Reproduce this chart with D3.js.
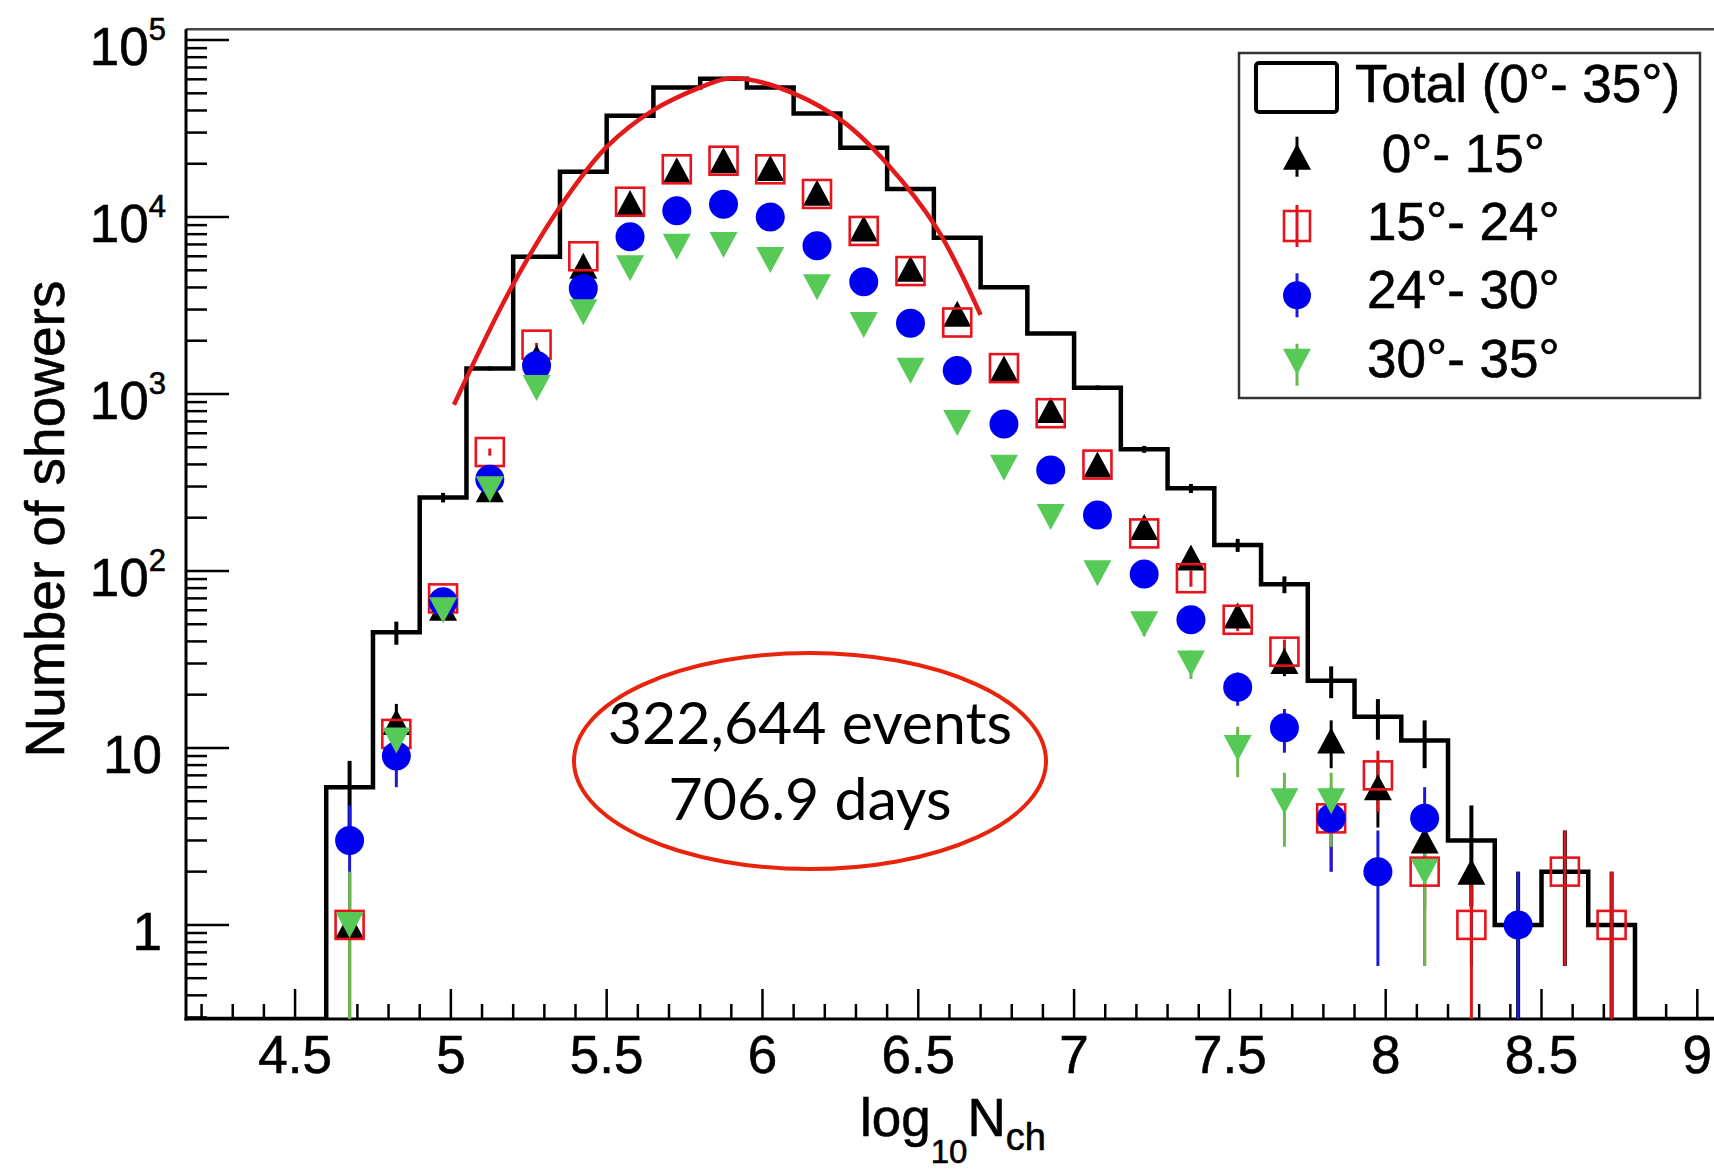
<!DOCTYPE html>
<html>
<head>
<meta charset="utf-8">
<script src="https://cdn.jsdelivr.net/npm/d3@7/dist/d3.min.js"></script>
<style>
  html, body { margin: 0; padding: 0; background: #fff; }
  svg { display: block; }
  .root-txt { font-family: "Liberation Sans", Arial, Helvetica, sans-serif; fill: #000; stroke: #000; stroke-width: 0.6px; }
  .note-txt { font-family: Lato, "Open Sans", sans-serif; fill: #000; }
</style>
</head>
<body>
<div id="chart"></div>
<script>
// ── data ────────────────────────────────────────────────────────────────────
const binCenters  = [4.675, 4.825, 4.975, 5.125, 5.275, 5.425, 5.575, 5.725, 5.875, 6.025,
                     6.175, 6.325, 6.475, 6.625, 6.775, 6.925, 7.075, 7.225, 7.375, 7.525,
                     7.675, 7.825, 7.975, 8.125, 8.275, 8.425, 8.575, 8.725];
const binWidth    = 0.15;

const totalCounts = [6, 45, 260, 1395, 5970, 18000, 37300, 54000, 60400, 54000,
                     38500, 24600, 14400, 7640, 4010, 2200, 1085, 487, 293, 140,
                     84, 24, 15, 11, 3, 1, 2, 1];
const zen0to15    = [1, 14, 62, 290, 1600, 5300, 12000, 18400, 20900, 18900,
                     13700, 8600, 5100, 2840, 1395, 813, 399, 177, 119, 56,
                     31, 11, 6, 3, 2, 0, 0, 0];
const zen15to24   = [1, 12, 70, 470, 1900, 6000, 12200, 18600, 20800, 18600,
                     13500, 8340, 4950, 2535, 1400, 779, 399, 163, 91, 53,
                     35, 4, 7, 2, 1, 0, 2, 1];
const zen24to30   = [3, 9, 67, 330, 1450, 3950, 7740, 10860, 11800, 10000,
                     6890, 4310, 2510, 1356, 676, 372, 207, 96, 53, 22,
                     13, 4, 2, 4, 0, 1, 0, 0];
const zen30to35   = [1, 11, 60, 290, 1080, 2900, 5130, 6790, 6950, 5710,
                     4010, 2450, 1355, 686, 383, 202, 97, 50, 30, 10,
                     5, 5, 0, 2, 0, 0, 0, 0];

// red fit curve
const fitX = [5.01, 5.19, 5.35, 5.50, 5.65, 5.80, 5.88, 5.95, 6.10, 6.26, 6.40, 6.56, 6.70];
const fitY = [870, 3870, 11400, 24900, 40200, 54000, 60300, 60000, 50000, 34500, 20000, 8600, 2800];

const xTickValues = [4.5, 5, 5.5, 6, 6.5, 7, 7.5, 8, 8.5, 9];
const xTickLabels = ['4.5', '5', '5.5', '6', '6.5', '7', '7.5', '8', '8.5', '9'];
const yDecades    = [1, 10, 100, 1000, 10000, 100000];
const yDecadeBase = ['1', '10', '10', '10', '10', '10'];
const yDecadeExp  = ['', '', '2', '3', '4', '5'];

const legendLabels = ['Total (0°- 35°)', ' 0°- 15°', '15°- 24°', '24°- 30°', '30°- 35°'];
const noteLines    = ['322,644 events', '706.9 days'];

// ── layout ──────────────────────────────────────────────────────────────────
const W = 1714, H = 1170;
const L = 186, R = 1716, T = 29.3, B = 1019;

const x = d3.scaleLinear().domain([4.15, 9.06]).range([L, R]);
const y = d3.scaleLog().domain([0.294, 1.15e5]).range([B, T]);

const svg = d3.select('#chart').append('svg')
  .attr('width', W).attr('height', H);

svg.append('defs').append('clipPath').attr('id', 'plotClip')
  .append('rect').attr('x', L).attr('y', T).attr('width', W - L).attr('height', B - T);

// ── frame ──
svg.append('line').attr('x1', L).attr('x2', W).attr('y1', T).attr('y2', T)
  .attr('stroke', '#444').attr('stroke-width', 2.5);

// ── axes ──
const axisG = svg.append('g');
axisG.append('line').attr('x1', L).attr('x2', L).attr('y1', T).attr('y2', B + 1.5)
  .attr('stroke', '#000').attr('stroke-width', 3);
axisG.append('line').attr('x1', L - 1.5).attr('x2', W).attr('y1', B).attr('y2', B)
  .attr('stroke', '#000').attr('stroke-width', 3);

// x ticks every 0.1, major every 0.5
const xTicks = x.ticks(50).filter(v => v > 4.15 && v < 9.06);
axisG.selectAll('line.xt').data(xTicks).enter().append('line')
  .attr('class', 'xt')
  .attr('x1', d => x(d)).attr('x2', d => x(d))
  .attr('y1', B)
  .attr('y2', d => Math.abs(d * 2 - Math.round(d * 2)) < 1e-6 ? B - 30 : B - 15)
  .attr('stroke', '#000').attr('stroke-width', 2.5);

axisG.selectAll('text.xl').data(xTickValues).enter().append('text')
  .attr('class', 'root-txt xl')
  .attr('x', d => x(d)).attr('y', 1073)
  .attr('text-anchor', 'middle')
  .attr('font-size', 53)
  .text((d, i) => xTickLabels[i]);

// y ticks: decades major, 2..9 minor
const yTicks = y.ticks().filter(v => v >= 0.294 && v <= 1.15e5);
axisG.selectAll('line.yt').data(yTicks).enter().append('line')
  .attr('class', 'yt')
  .attr('y1', d => y(d)).attr('y2', d => y(d))
  .attr('x1', L)
  .attr('x2', d => Math.abs(Math.log10(d) - Math.round(Math.log10(d))) < 1e-6 ? L + 43 : L + 21)
  .attr('stroke', '#000').attr('stroke-width', 2.5);

const yLab = axisG.selectAll('text.yl').data(yDecades).enter().append('text')
  .attr('class', 'root-txt yl')
  .attr('x', (d, i) => yDecadeExp[i] ? 166 : 162)
  .attr('y', d => y(d) + 25)
  .attr('text-anchor', 'end')
  .attr('font-size', 53);
yLab.append('tspan').text((d, i) => yDecadeBase[i]);
yLab.append('tspan')
  .attr('font-size', 31)
  .attr('dy', -25)
  .text((d, i) => yDecadeExp[i]);

// axis titles
svg.append('text').attr('class', 'root-txt')
  .attr('transform', 'translate(64,519) rotate(-90)')
  .attr('text-anchor', 'middle')
  .attr('font-size', 55)
  .text('Number of showers');

const xt = svg.append('text').attr('class', 'root-txt')
  .attr('x', 860).attr('y', 1136).attr('font-size', 53);
xt.append('tspan').text('log');
xt.append('tspan').attr('font-size', 33).attr('dy', 27).text('10');
xt.append('tspan').attr('dy', -27).text('N');
xt.append('tspan').attr('font-size', 38).attr('dy', 14).text('ch');

// ── plot contents ──
const plot = svg.append('g').attr('clip-path', 'url(#plotClip)');

// total histogram (step line)
const histPts = [[x.domain()[0], null], [binCenters[0] - binWidth / 2, null]];
binCenters.forEach((c, i) => {
  histPts.push([c - binWidth / 2, totalCounts[i]]);
  histPts.push([c + binWidth / 2, totalCounts[i]]);
});
const lastEdge = binCenters[binCenters.length - 1] + binWidth / 2;
histPts.push([lastEdge, null], [x.domain()[1], null]);

plot.append('path')
  .datum(histPts)
  .attr('fill', 'none')
  .attr('stroke', '#000')
  .attr('stroke-width', 4.5)
  .attr('stroke-linejoin', 'miter')
  .attr('d', d3.line().x(d => x(d[0])).y(d => d[1] ? y(d[1]) : B));

function errBar(g, counts, color, width) {
  g.selectAll(null).data(binCenters.map((c, i) => [c, counts[i]]).filter(d => d[1] > 0))
    .enter().append('line')
    .attr('x1', d => x(d[0])).attr('x2', d => x(d[0]))
    .attr('y1', d => y(d[1] + Math.sqrt(d[1])))
    .attr('y2', d => d[1] - Math.sqrt(d[1]) > 0 ? y(d[1] - Math.sqrt(d[1])) : B)
    .attr('stroke', color).attr('stroke-width', width);
}

errBar(plot, totalCounts, '#000', 4);

// fit curve
plot.append('path')
  .datum(fitX.map((v, i) => [v, fitY[i]]))
  .attr('fill', 'none')
  .attr('stroke', '#e41a1a')
  .attr('stroke-width', 4.5)
  .attr('d', d3.line().curve(d3.curveCatmullRom).x(d => x(d[0])).y(d => y(d[1])));

// series error bars
errBar(plot, zen0to15,  '#000', 3);
errBar(plot, zen15to24, '#d8141c', 3);
errBar(plot, zen24to30, '#1a1ad8', 3);
errBar(plot, zen30to35, '#6cb84c', 3);

// markers
const MS = 28;
function triUp(cx, cy)   { return `M${cx},${cy - 13}L${cx + MS / 2},${cy + 13}L${cx - MS / 2},${cy + 13}Z`; }
function triDown(cx, cy) { return `M${cx},${cy + 13}L${cx + MS / 2},${cy - 13}L${cx - MS / 2},${cy - 13}Z`; }

function pts(counts) {
  return binCenters.map((c, i) => [c, counts[i]]).filter(d => d[1] > 0);
}

plot.selectAll('path.s0').data(pts(zen0to15)).enter().append('path')
  .attr('class', 's0')
  .attr('d', d => triUp(x(d[0]), y(d[1])))
  .attr('fill', '#000');

plot.selectAll('rect.s1').data(pts(zen15to24)).enter().append('rect')
  .attr('class', 's1')
  .attr('x', d => x(d[0]) - MS / 2).attr('y', d => y(d[1]) - MS / 2)
  .attr('width', MS).attr('height', MS)
  .attr('fill', 'none').attr('stroke', '#e8141c').attr('stroke-width', 2.6);

plot.selectAll('circle.s2').data(pts(zen24to30)).enter().append('circle')
  .attr('class', 's2')
  .attr('cx', d => x(d[0])).attr('cy', d => y(d[1]))
  .attr('r', 14.5)
  .attr('fill', '#0000f0');

plot.selectAll('path.s3').data(pts(zen30to35)).enter().append('path')
  .attr('class', 's3')
  .attr('d', d => triDown(x(d[0]), y(d[1])))
  .attr('fill', '#57c957');

// ── legend ──
const leg = svg.append('g');
leg.append('rect')
  .attr('x', 1239).attr('y', 53).attr('width', 461).attr('height', 345)
  .attr('fill', '#fff').attr('stroke', '#333').attr('stroke-width', 2.5);

const rowBase = [101.7, 171.7, 240, 308.3, 376.7];
const rowX    = [1355, 1367, 1367, 1367, 1367];
leg.selectAll('text').data(legendLabels).enter().append('text')
  .attr('class', 'root-txt')
  .attr('x', (d, i) => rowX[i]).attr('y', (d, i) => rowBase[i])
  .attr('font-size', 53)
  .style('white-space', 'pre')
  .text(d => d);

const mx = 1297;
leg.append('rect').attr('x', 1256).attr('y', 63).attr('width', 81).attr('height', 49)
  .attr('rx', 3).attr('fill', 'none').attr('stroke', '#000').attr('stroke-width', 4);

const c1 = rowBase[1] - 15, c2 = rowBase[2] - 14, c3 = rowBase[3] - 13, c4 = rowBase[4] - 15;
leg.append('line').attr('x1', mx).attr('x2', mx).attr('y1', c1 - 20).attr('y2', c1 + 20)
  .attr('stroke', '#000').attr('stroke-width', 3);
leg.append('path').attr('d', triUp(mx, c1)).attr('fill', '#000');

leg.append('line').attr('x1', mx).attr('x2', mx).attr('y1', c2 - 21).attr('y2', c2 + 21)
  .attr('stroke', '#d8141c').attr('stroke-width', 3);
leg.append('rect').attr('x', mx - 13).attr('y', c2 - 15).attr('width', 26).attr('height', 30)
  .attr('fill', 'none').attr('stroke', '#e8141c').attr('stroke-width', 2.6);

leg.append('line').attr('x1', mx).attr('x2', mx).attr('y1', c3 - 22).attr('y2', c3 + 22)
  .attr('stroke', '#1a1ad8').attr('stroke-width', 3);
leg.append('circle').attr('cx', mx).attr('cy', c3).attr('r', 14).attr('fill', '#0000f0');

leg.append('line').attr('x1', mx).attr('x2', mx).attr('y1', c4 - 18).attr('y2', c4 + 24)
  .attr('stroke', '#6cb84c').attr('stroke-width', 3);
leg.append('path').attr('d', triDown(mx, c4)).attr('fill', '#57c957');

// ── annotation ──
svg.append('ellipse')
  .attr('cx', 810).attr('cy', 761).attr('rx', 236).attr('ry', 108)
  .attr('fill', 'none').attr('stroke', '#e8240c').attr('stroke-width', 4);

svg.selectAll('text.note').data(noteLines).enter().append('text')
  .attr('class', 'note-txt note')
  .attr('x', 810).attr('y', (d, i) => i ? 820 : 744)
  .attr('text-anchor', 'middle')
  .attr('font-size', 59)
  .text(d => d);
</script>
</body>
</html>
